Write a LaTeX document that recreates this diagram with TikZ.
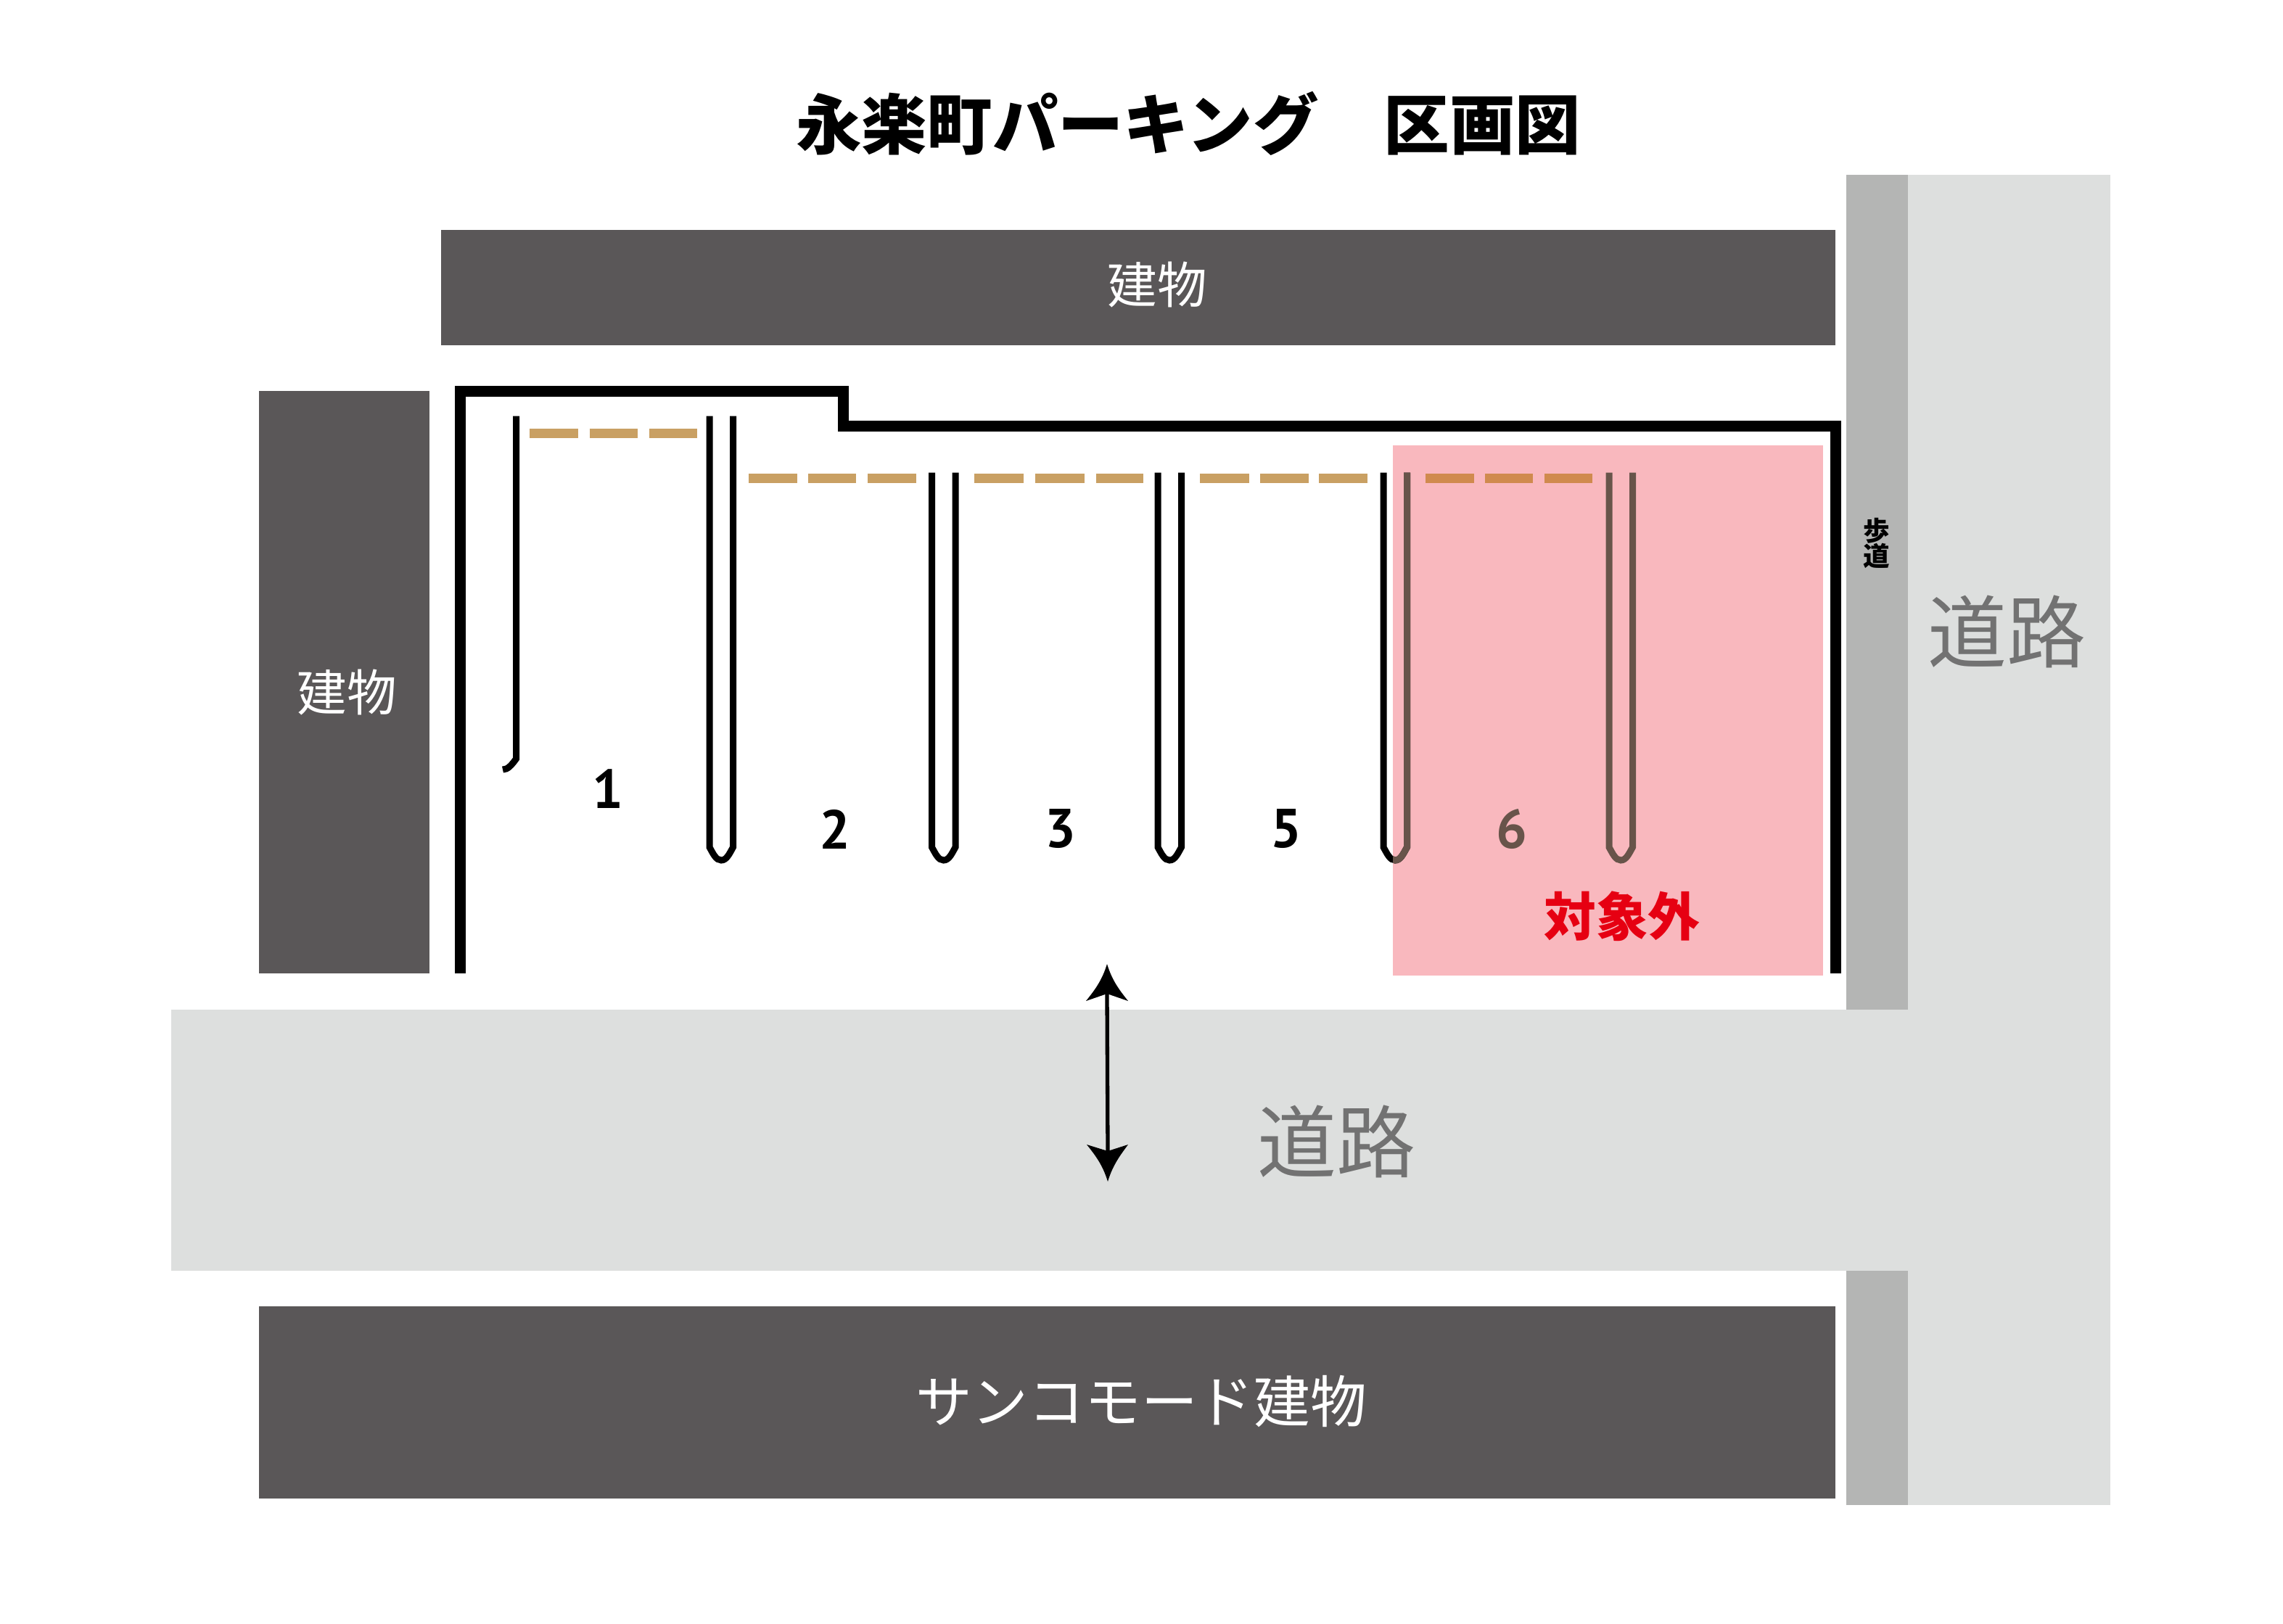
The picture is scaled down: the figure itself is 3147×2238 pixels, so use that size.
\documentclass[tikz,border=0pt]{standalone}
\usepackage{fontspec}
\setmainfont{Noto Sans}
\newfontfamily\jp{Noto Sans CJK JP}
\newfontfamily\dig{PT Sans}
\newcommand{\fsz}[1]{\fontsize{#1}{#1}\selectfont}
\definecolor{roadc}{HTML}{DDDFDE}
\definecolor{walkc}{HTML}{B4B5B4}
\definecolor{bldc}{HTML}{5A5758}
\definecolor{pinkc}{HTML}{F9B8BE}
\definecolor{dashc}{HTML}{C9A063}
\definecolor{dashp}{HTML}{D08A4E}
\definecolor{stallp}{HTML}{68544A}
\definecolor{roadt}{HTML}{727272}
\definecolor{redt}{HTML}{E60012}
\newcommand{\stallpath}[1]{(#1,651.5) -- (#1,1168) .. controls (#1+5,1177) and (#1+9,1186) .. (#1+16.2,1186) .. controls (#1+23.5,1186) and (#1+27.5,1177) .. (#1+32.5,1168) -- (#1+32.5,651.5)}
\tikzset{
  stallline/.style={draw=black,line width=9*0.2845pt,line cap=butt,line join=miter},
  walldash/.style={line width=13*0.2845pt,line cap=butt},
  bldtext/.style={text=white,inner sep=0pt,font=\jp\fsz{19.5pt}},
  roadtext/.style={text=roadt,inner sep=0pt,font=\jp\fsz{31pt}},
  numtext/.style={inner sep=0pt,font=\dig\bfseries\fsz{21.5pt}}
}
\begin{document}
\begin{tikzpicture}[x=0.01cm,y=-0.01cm]
\useasboundingbox (0,0) rectangle (3147,2238);
\fill[white] (0,0) rectangle (3147,2238);
% roads
\fill[walkc] (2545,241) rectangle (2630,2075);
\fill[roadc] (2630,241) rectangle (2909,2075);
\fill[roadc] (236,1392) rectangle (2630,1752);
% buildings
\fill[bldc] (608,317) rectangle (2530,476);
\fill[bldc] (357,539) rectangle (592,1342);
\fill[bldc] (357,1801) rectangle (2530,2066);
% non-target area
\fill[pinkc] (1920,614) rectangle (2513,1345);
% wall
\draw[line width=15*0.2845pt,line join=miter] (634,1342) -- (634,539) -- (1162,539) -- (1162,587) -- (2530,587) -- (2530,1342);
% stalls
\draw[stallline] (711.6,573.5) -- (711.6,1046) .. controls (705,1055) and (700,1061) .. (693,1061);
\draw[stallline] (978,573.5) -- (978,1168) .. controls (983,1177) and (987,1186) .. (994.2,1186) .. controls (1001.5,1186) and (1005.5,1177) .. (1010.5,1168) -- (1010.5,573.5);
\foreach \sx in {1284.5,1596,1907}{\draw[stallline] \stallpath{\sx};}
\begin{scope}
\clip (1920,614) rectangle (2513,1345);
\draw[stallline,draw=stallp] \stallpath{1907};
\draw[stallline,draw=stallp] \stallpath{2218};
\end{scope}
% dashes
\foreach \a/\b in {730/797,812.5/879,894.6/960.7}{\draw[walldash,dashc] (\a,597.5) -- (\b,597.5);}
\foreach \a/\b in {1032/1099,1114/1180,1196/1262.5,1343/1411,1427/1495,1511/1576,1654/1722,1737/1804,1818/1885}{\draw[walldash,dashc] (\a,659) -- (\b,659);}
\foreach \a/\b in {1965/2032,2047/2113,2129/2195}{\draw[walldash,dashp] (\a,659) -- (\b,659);}
% arrow
\coordinate (arrowtop) at (1526,1370);
\coordinate (arrowbot) at (1527,1587);
\draw[line width=5.3*0.2845pt] (arrowtop) -- (arrowbot);
\fill (1526,1329) .. controls (1533,1352) and (1543,1365) .. (1555,1380) -- (1526,1370) -- (1497,1380) .. controls (1509,1365) and (1519,1352) .. (1526,1329) -- cycle;
\fill (1527,1629) .. controls (1534,1606) and (1544,1593) .. (1555,1578) -- (1527,1587) -- (1498,1578) .. controls (1510,1593) and (1520,1606) .. (1527,1629) -- cycle;
% texts
\node[inner sep=0pt,font=\jp\bfseries\fsz{25.7pt}] (title) at (1638,170) {永楽町パーキング　区画図};
\node[bldtext] (b1) at (1595,392) {建物};
\node[bldtext] (b2) at (478,954) {建物};
\node[bldtext,font=\jp\fsz{22.1pt}] (b3) at (1573,1932) {サンコモード建物};
\node[roadtext] (r1) at (2766,871) {道路};
\node[roadtext] (r2) at (1842,1574) {道路};
\node[inner sep=0pt,align=center,font=\jp\bfseries\fsz{10.4pt}] (walk) at (2587,749) {歩\\[-0.5pt]道};
\node[inner sep=0pt,text=redt,font=\jp\bfseries\fsz{20.4pt}] (excl) at (2236,1263) {対象外};
\node[numtext] (n1) at (838,1088) {1};
\node[numtext] (n2) at (1151,1143) {2};
\node[numtext] (n3) at (1462,1143) {3};
\node[numtext] (n5) at (1773,1143) {5};
\node[numtext,text=stallp] (n6) at (2084,1143) {6};
\end{tikzpicture}
\end{document}
